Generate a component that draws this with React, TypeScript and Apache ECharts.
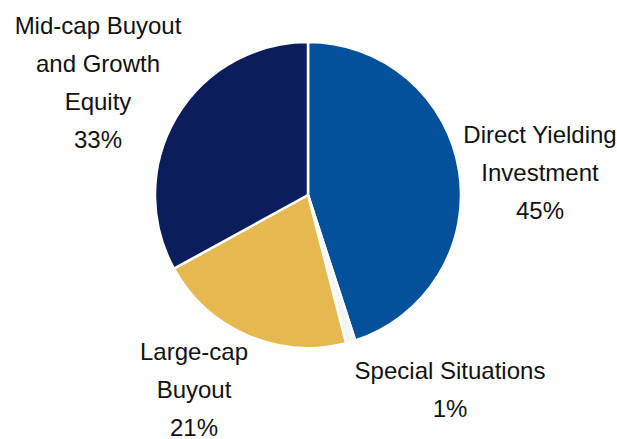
import React, { useEffect, useRef } from "react";
import * as echarts from "echarts";

const categories = [
  "Direct Yielding\nInvestment",
  "Special Situations",
  "Large-cap\nBuyout",
  "Mid-cap Buyout\nand Growth\nEquity",
];
const values = [45, 1, 21, 33];
const colors = ["#02519A", "#F5F5F5", "#E5B94F", "#0B1E5B"];
const labelCenters = [
  [540, 172],
  [450, 389],
  [194, 389],
  [98, 82],
];

export default function App() {
  const ref = useRef<HTMLDivElement>(null);
  useEffect(() => {
    document.body.style.margin = "0";
    const chart = echarts.init(ref.current!, null, { renderer: "svg" });
    chart.setOption({
      animation: false,
      backgroundColor: "#ffffff",
      series: [
        {
          type: "pie",
          center: [308, 195],
          radius: [0, 153],
          startAngle: 90,
          clockwise: true,
          data: categories.map((name, i) => ({
            name,
            value: values[i],
            itemStyle: { color: colors[i] },
          })),
          itemStyle: { borderColor: "#ffffff", borderWidth: 2.5 },
          label: {
            show: true,
            position: "outside",
            formatter: (p: any) => `${p.name}\n${p.value}%`,
            fontFamily: "'Liberation Sans', Arial, sans-serif",
            fontSize: 24,
            lineHeight: 38,
            color: "#111111",
            align: "center",
            overflow: "none",
            width: 300,
          },
          labelLine: { show: false },
          labelLayout: (params: any) => {
            const c = labelCenters[params.dataIndex];
            return { x: c[0], y: c[1], align: "center", verticalAlign: "middle" };
          },
          emphasis: { disabled: true },
        },
      ],
    });
    return () => chart.dispose();
  }, []);
  return <div ref={ref} style={{ width: 617, height: 439 }} />;
}
